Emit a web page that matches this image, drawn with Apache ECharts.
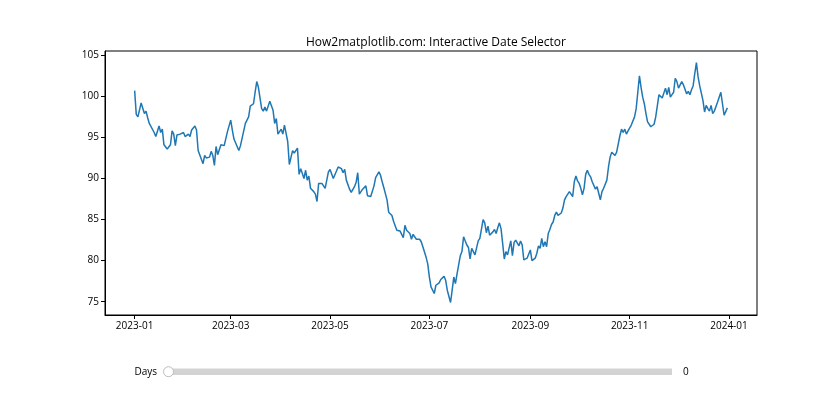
<!DOCTYPE html>
<html>
<head>
<meta charset="utf-8">
<script src="https://cdn.jsdelivr.net/npm/echarts@6/dist/echarts.min.js"></script>
<style>html,body{margin:0;padding:0;background:#fff;}#c{width:840px;height:420px;}</style>
</head>
<body>
<div id="c"></div>
<script>
// Day offsets from 2023-01-01 and the values
const days = [0,1,2,4,6,7,8,9,10,12,13,15,16,17,18,19,20,22,23,24,25,26,28,30,31,33,34,35,37,38,39,42,43,44,46,47,48,49,50,51,53,55,57,59,60,61,62,64,65,66,68,70,71,73,74,75,76,78,79,80,81,83,85,86,87,88,90,91,92,94,95,97,98,100,101,102,104,105,106,107,108,110,111,112,113,115,117,118,119,120,122,123,125,127,128,129,130,131,132,133,135,136,137,138,139,140,141,142,143,144,145,147,148,149,150,151,152,153,155,156,157,158,159,160,161,162,163,164,165,166,167,168,169,170,171,172,173,175,176,177,178,179,180,181,182,183,184,185,187,188,190,191,192,193,194,195,196,197,198,200,201,202,203,204,205,206,207,208,209,211,212,214,215,216,217,218,219,220,221,222,223,224,225,226,227,228,229,231,232,233,234,235,236,237,238,239,241,242,243,244,245,246,247,248,249,250,251,252,253,254,255,256,257,258,259,260,262,263,264,265,266,267,268,269,270,271,272,273,274,275,276,277,278,279,280,281,282,283,284,285,286,287,288,289,290,291,292,293,294,295,296,298,299,300,301,302,303,304,305,306,307,308,309,310,311,312,313,314,315,316,317,318,319,320,322,323,324,325,326,327,328,329,330,331,332,333,334,335,336,337,338,339,340,341,342,343,344,345,346,347,348,349,350,351,352,353,354,355,356,357,358,359,360,362,363,364];
const values = [100.7,97.8,97.5,99.2,97.9,98.2,97.4,96.7,96.6,95.6,95.1,96.4,95.6,96.0,94.1,94.0,93.6,94.1,95.8,95.4,94.0,95.3,95.4,95.6,95.1,95.4,95.1,95.9,96.4,95.9,93.4,91.8,92.8,92.5,92.6,93.3,92.8,91.6,93.9,92.9,94.1,94.0,95.7,97.1,95.9,94.8,94.8,93.4,94.0,93.9,96.7,97.5,98.8,99.1,100.5,101.8,101.1,98.5,98.2,98.7,98.2,99.4,98.3,96.7,97.3,95.4,96.0,95.4,96.5,94.5,91.7,93.4,93.1,93.7,90.5,91.2,90.0,91.0,89.8,90.3,88.8,88.4,88.1,87.2,89.4,89.4,88.8,88.7,90.8,91.1,90.0,90.2,91.4,91.2,90.7,91.1,89.8,89.6,88.7,88.3,89.0,89.5,90.7,88.1,88.2,88.7,88.5,89.1,87.9,88.1,87.8,89.1,90.1,90.3,90.8,90.4,89.6,88.9,87.4,85.9,85.8,85.5,84.8,84.7,83.7,83.8,83.6,83.8,82.8,84.3,83.7,83.6,83.3,82.6,83.2,83.1,82.6,82.6,82.3,81.7,81.8,80.4,79.6,78.0,76.8,76.9,76.0,77.0,77.3,77.7,78.1,77.6,76.4,76.3,74.9,76.4,78.0,77.2,78.4,80.6,81.1,82.9,83.1,81.9,81.6,80.2,81.5,81.4,80.7,82.4,82.7,85.0,84.6,83.4,84.2,83.1,83.3,83.5,83.8,83.3,84.0,84.6,83.9,82.1,80.2,81.1,80.7,82.4,80.6,82.2,82.5,82.4,81.8,82.4,81.9,80.1,80.3,80.5,81.3,80.0,79.8,80.3,80.9,81.8,81.5,82.7,81.7,82.3,81.7,83.3,83.8,84.4,84.7,85.5,85.9,85.5,85.8,86.4,87.4,87.8,87.9,88.4,88.3,87.8,89.6,90.3,89.7,89.4,88.8,88.0,88.8,90.5,91.0,90.5,90.2,89.6,89.8,88.7,89.0,88.2,87.4,88.4,88.8,88.7,89.8,91.4,92.6,93.2,93.0,92.8,93.2,95.2,96.0,95.6,96.0,95.4,95.8,96.0,96.5,96.7,97.5,98.5,100.5,102.5,101.1,99.9,99.1,97.9,96.9,96.7,96.3,96.2,96.6,97.5,100.2,100.1,99.8,99.7,101.0,100.2,101.1,99.9,100.2,100.5,102.2,101.8,101.0,101.0,101.8,101.4,101.6,100.3,100.6,100.2,100.8,101.3,102.8,104.1,102.4,101.3,101.1,99.5,98.1,98.9,98.5,98.2,98.9,97.9,98.2,98.1,99.3,99.5,100.5,97.7,97.5,98.6];
const xTickLabels = ['2023-01','2023-03','2023-05','2023-07','2023-09','2023-11','2024-01'];
const yTicks = [75,80,85,90,95,100,105];
const sliderLabel = 'Days';
const sliderValue = '0';
const titleText = 'How2matplotlib.com: Interactive Date Selector';

const DAY = 86400000;
const t0 = Date.UTC(2023,0,1);
const seriesData = days.map((d,i) => [d, values[i]]);
// tick positions as day offsets of each month label
const xTickDays = xTickLabels.map(s => Math.round((Date.UTC(+s.slice(0,4), +s.slice(5,7)-1, 1) - t0) / DAY));
const fmt = v => { const i = xTickDays.indexOf(Math.round(v)); return i >= 0 ? xTickLabels[i] : ''; };

const FONT = 'Open Sans';
const chart = echarts.init(document.getElementById('c'), null, {renderer:'canvas'});
chart.setOption({
  animation: false,
  backgroundColor: '#fff',
  textStyle: {fontFamily: FONT},
  title: {
    text: titleText, left: 431, top: 32, textAlign: 'center',
    textStyle: {fontFamily: FONT, fontSize: 12, fontWeight: 'normal', color: '#000'}
  },
  grid: {left: 105, right: 83, top: 51, bottom: 105, show: true, borderColor: '#000', borderWidth: 1, backgroundColor: 'transparent'},
  xAxis: {
    type: 'value',
    min: -18.2, max: 382.2,
    axisLine: {show: true, onZero: false, lineStyle: {color: '#000', width: 1}},
    axisTick: {show: true, customValues: xTickDays, length: 4, lineStyle: {color: '#000'}},
    axisLabel: {customValues: xTickDays, formatter: fmt, color: '#000', fontSize: 10, margin: 6, fontFamily: FONT},
    splitLine: {show: false}
  },
  yAxis: {
    type: 'value',
    min: 73.38, max: 105.52,
    axisLine: {show: true, onZero: false, lineStyle: {color: '#000', width: 1}},
    axisTick: {show: true, customValues: yTicks, length: 4, lineStyle: {color: '#000'}},
    axisLabel: {customValues: yTicks, color: '#000', fontSize: 10, margin: 6, fontFamily: FONT},
    splitLine: {show: false}
  },
  series: [{
    type: 'line', data: seriesData, showSymbol: false, symbol: 'none',
    lineStyle: {color: '#1f77b4', width: 1.5}, itemStyle: {color: '#1f77b4'}
  }],
  graphic: [
    {type: 'rect', shape: {x: 168, y: 368.5, width: 504, height: 6.5}, style: {fill: '#d3d3d3'}},
    {type: 'circle', shape: {cx: 168.5, cy: 371.7, r: 5}, style: {fill: '#fff', stroke: '#bdbdbd', lineWidth: 1}},
    {type: 'text', x: 157, y: 371.7, style: {text: sliderLabel, align: 'right', verticalAlign: 'middle', fontSize: 10, fill: '#000', fontFamily: FONT}},
    {type: 'text', x: 683, y: 371.7, style: {text: sliderValue, align: 'left', verticalAlign: 'middle', fontSize: 10, fill: '#000', fontFamily: FONT}}
  ]
});
</script>
</body>
</html>
